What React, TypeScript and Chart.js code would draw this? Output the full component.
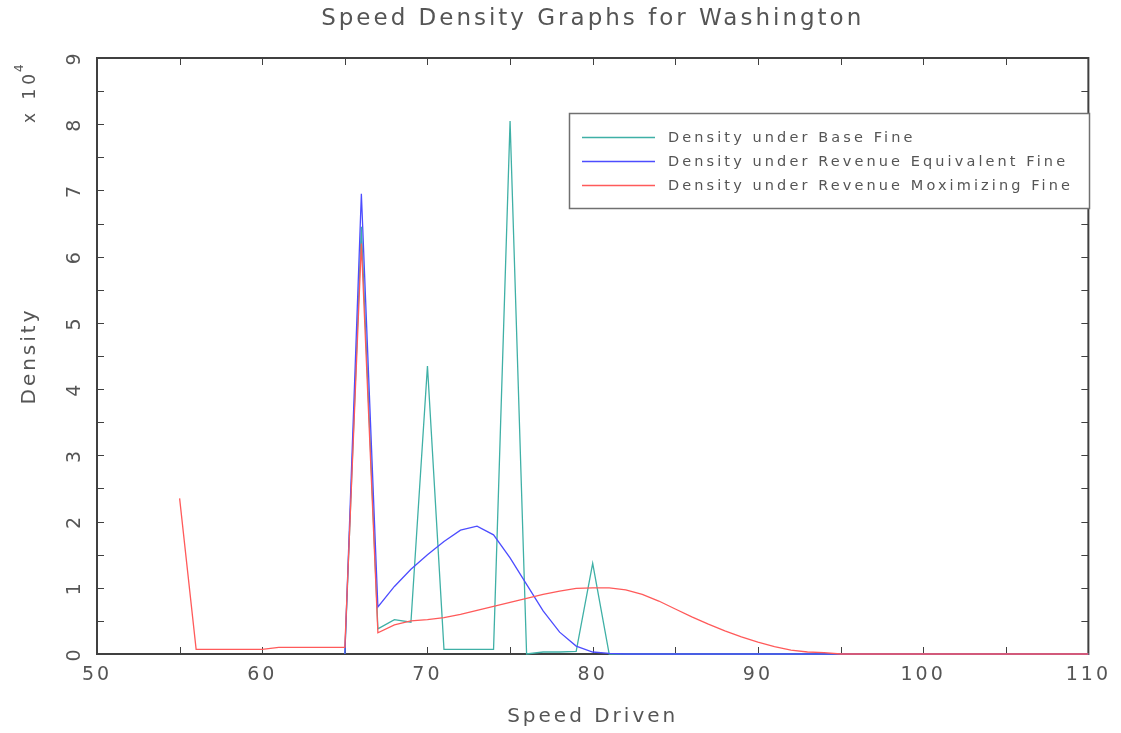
import React, { useEffect, useRef } from 'react';
import { Chart, registerables } from 'chart.js';

Chart.register(...registerables);

// ---------- data ----------
const speeds = [
  50, 51, 52, 53, 54, 55, 56, 57, 58, 59, 60, 61, 62, 63, 64, 65, 66, 67, 68, 69,
  70, 71, 72, 73, 74, 75, 76, 77, 78, 79, 80, 81, 82, 83, 84, 85, 86, 87, 88, 89,
  90, 91, 92, 93, 94, 95, 96, 97, 98, 99, 100, 101, 102, 103, 104, 105, 106, 107, 108, 109, 110,
];

// Density under Base Fine (x 10^-4 units as labelled)
const baseFine = [
  null, null, null, null, null, null, null, null, null, null, null, null, null, null, null,
  0, 6.45, 0.38, 0.52, 0.48, 4.35, 0.07, 0.07, 0.07, 0.07, 8.05, 0, 0.03, 0.03, 0.04, 1.37, 0,
  0, 0, 0, 0, 0, 0, 0, 0, 0, 0, 0, 0, 0, 0, 0, 0, 0, 0, 0, 0, 0, 0, 0, 0, 0, 0, 0, 0, 0,
];

// Density under Revenue Equivalent Fine
const equivFine = [
  null, null, null, null, null, null, null, null, null, null, null, null, null, null, null,
  0, 6.95, 0.71, 1.02, 1.28, 1.5, 1.7, 1.87, 1.93, 1.8, 1.45, 1.05, 0.65, 0.33, 0.12, 0.03, 0.01,
  0, 0, 0, 0, 0, 0, 0, 0, 0, 0, 0, 0, 0, 0, 0, 0, 0, 0, 0, 0, 0, 0, 0, 0, 0, 0, 0, 0, 0,
];

// Density under Revenue Maximizing Fine
const maxFine = [
  null, null, null, null, null,
  2.35, 0.07, 0.07, 0.07, 0.07, 0.07, 0.1, 0.1, 0.1, 0.1, 0.1, 6.2, 0.32, 0.44, 0.5,
  0.52, 0.55, 0.6, 0.66, 0.72, 0.78, 0.84, 0.9, 0.95, 0.99, 1.0, 1.0, 0.97, 0.9, 0.8,
  0.68, 0.56, 0.45, 0.35, 0.26, 0.18, 0.11, 0.06, 0.03, 0.02, 0,
  0, 0, 0, 0, 0, 0, 0, 0, 0, 0, 0, 0, 0, 0, 0,
];

const seriesLabels = [
  'Density under Base Fine',
  'Density under Revenue Equivalent Fine',
  'Density under Revenue Moximizing Fine',
];
const seriesColors = ['#3fb0a6', '#4d4dff', '#ff5a5a'];

const xLabelValues = [50, 60, 70, 80, 90, 100, 110];
const yLabelValues = [0, 1, 2, 3, 4, 5, 6, 7, 8, 9];

const titleText = 'Speed Density Graphs for Washington';
const xTitleText = 'Speed Driven';
const yTitleText = 'Density';
const yExponentBase = 'x 10';
const yExponentPower = '4';

// ---------- style ----------
const TEXT = '#555555';
const FRAME = '#404040';
const FONT = "'DejaVu Sans', sans-serif";

const spacingPlugin = {
  id: 'letterSpacingPlugin',
  beforeUpdate(chart: any) {
    chart.ctx.letterSpacing = '3px';
  },
  beforeDraw(chart: any) {
    chart.ctx.letterSpacing = '3px';
  },
};

const framePlugin = {
  id: 'idlFrame',
  beforeDatasetsDraw(chart: any) {
    const { ctx, chartArea, scales } = chart;
    const { left, right, top, bottom } = chartArea;
    const xs = scales.x;
    const ys = scales.y;
    ctx.save();
    ctx.strokeStyle = FRAME;
    ctx.lineWidth = 2;
    ctx.strokeRect(left, top, right - left, bottom - top);
    ctx.lineWidth = 1;
    const tl = 7;
    ctx.beginPath();
    xs.ticks.forEach((t: any) => {
      const px = Math.round(xs.getPixelForValue(t.value)) + 0.5;
      if (px <= left + 1 || px >= right - 1) return;
      ctx.moveTo(px, bottom);
      ctx.lineTo(px, bottom - tl);
      ctx.moveTo(px, top);
      ctx.lineTo(px, top + tl);
    });
    ys.ticks.forEach((t: any) => {
      const py = Math.round(ys.getPixelForValue(t.value)) + 0.5;
      if (py <= top + 1 || py >= bottom - 1) return;
      ctx.moveTo(left, py);
      ctx.lineTo(left + tl, py);
      ctx.moveTo(right, py);
      ctx.lineTo(right - tl, py);
    });
    ctx.stroke();
    ctx.restore();
  },
};

const legendPlugin = {
  id: 'idlLegend',
  afterDraw(chart: any) {
    const { ctx } = chart;
    ctx.save();
    // legend box
    const bx = 569.5, by = 113.5, bw = 520, bh = 95;
    ctx.fillStyle = '#ffffff';
    ctx.fillRect(bx, by, bw, bh);
    ctx.strokeStyle = '#707070';
    ctx.lineWidth = 1.5;
    ctx.strokeRect(bx, by, bw, bh);
    ctx.font = `14.5px ${FONT}`;
    ctx.letterSpacing = '3.1px';
    ctx.textBaseline = 'middle';
    ctx.textAlign = 'left';
    chart.data.datasets.forEach((ds: any, i: number) => {
      const y = 137.5 + i * 24;
      ctx.strokeStyle = ds.borderColor;
      ctx.lineWidth = 1.4;
      ctx.beginPath();
      ctx.moveTo(582, y);
      ctx.lineTo(655, y);
      ctx.stroke();
      ctx.fillStyle = TEXT;
      ctx.fillText(ds.label, 668, y + 1);
    });

    // y exponent label (rotated)
    ctx.translate(31, 123);
    ctx.rotate(-Math.PI / 2);
    ctx.font = `17px ${FONT}`;
    ctx.letterSpacing = '4px';
    ctx.fillStyle = TEXT;
    ctx.textBaseline = 'middle';
    ctx.fillText(yExponentBase, 0, 0);
    const w = ctx.measureText(yExponentBase).width;
    ctx.font = `12px ${FONT}`;
    ctx.letterSpacing = '1px';
    ctx.fillText(yExponentPower, w - 2, -11);
    ctx.restore();
  },
};

export default function App() {
  const canvasRef = useRef<HTMLCanvasElement | null>(null);

  useEffect(() => {
    document.body.style.margin = '0';
    const canvas = canvasRef.current;
    if (!canvas) return;

    const makeData = (arr: (number | null)[]) =>
      speeds
        .map((s, i) => ({ x: s, y: arr[i] }))
        .filter((p) => p.y !== null) as { x: number; y: number }[];

    const seriesValues = [baseFine, equivFine, maxFine];
    const orders = [3, 2, 1];

    const chart = new Chart(canvas, {
      type: 'line',
      data: {
        datasets: seriesValues.map((vals, i) => ({
          label: seriesLabels[i],
          data: makeData(vals),
          borderColor: seriesColors[i],
          backgroundColor: seriesColors[i],
          borderWidth: 1.3,
          pointRadius: 0,
          tension: 0,
          fill: false,
          order: orders[i],
          clip: 2,
        })),
      },
      options: {
        animation: false,
        responsive: false,
        devicePixelRatio: 1,
        layout: { padding: { left: 0, right: 31, top: 0, bottom: 0 } },
        font: { family: FONT },
        plugins: {
          legend: { display: false },
          tooltip: { enabled: false },
          title: {
            display: true,
            fullSize: false,
            text: titleText,
            color: TEXT,
            font: { family: FONT, size: 23, weight: 'normal' },
            padding: { top: 5, bottom: 25.4 },
          },
        },
        scales: {
          x: {
            type: 'linear',
            min: 50,
            max: 110,
            grid: { display: false, drawTicks: false },
            border: { display: false },
            afterFit: (scale: any) => {
              scale.height = 79;
            },
            ticks: {
              stepSize: 5,
              autoSkip: false,
              maxRotation: 0,
              minRotation: 0,
              padding: 10,
              color: TEXT,
              font: { family: FONT, size: 19 },
              callback: (v: any) => (xLabelValues.includes(Number(v)) ? String(v) : ''),
            },
            title: {
              display: true,
              text: xTitleText,
              color: TEXT,
              font: { family: FONT, size: 20 },
              padding: { top: 0, bottom: 4 },
            },
          },
          y: {
            type: 'linear',
            min: 0,
            max: 9,
            grid: { display: false, drawTicks: false },
            border: { display: false },
            afterFit: (scale: any) => {
              scale.width = 97;
            },
            ticks: {
              stepSize: 0.5,
              autoSkip: false,
              minRotation: 90,
              maxRotation: 90,
              crossAlign: 'center',
              padding: 14,
              color: TEXT,
              font: { family: FONT, size: 19 },
              callback: (v: any) => (yLabelValues.includes(Number(v)) ? String(v) : ''),
            },
            title: {
              display: true,
              text: yTitleText,
              color: TEXT,
              font: { family: FONT, size: 20 },
              padding: { top: 18, bottom: 0 },
            },
          },
        },
      } as any,
      plugins: [spacingPlugin, framePlugin, legendPlugin],
    });

    return () => {
      chart.destroy();
    };
  }, []);

  return (
    <div style={{ width: 1121, height: 733, background: '#ffffff' }}>
      <canvas ref={canvasRef} width={1121} height={733} style={{ display: 'block' }} />
    </div>
  );
}
